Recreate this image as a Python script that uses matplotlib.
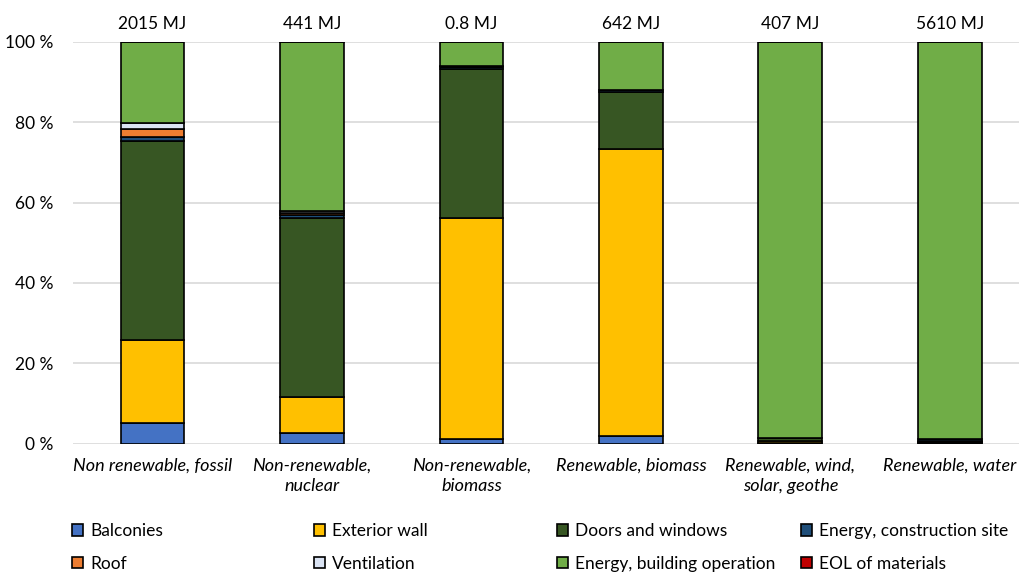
import matplotlib.pyplot as plt
import numpy as np

plt.rcParams['font.family'] = ['Lato', 'DejaVu Sans']

# categories and totals
categories = ['Non renewable, fossil', 'Non-renewable,\nnuclear', 'Non-renewable,\nbiomass',
              'Renewable, biomass', 'Renewable, wind,\nsolar, geothe', 'Renewable, water']
totals = ['2015 MJ', '441 MJ', '0.8 MJ', '642 MJ', '407 MJ', '5610 MJ']

# shares in percent, bottom to top
balconies = [5.2, 2.7, 1.2, 1.8, 0.1, 0.2]
exterior_wall = [20.6, 9.0, 55.0, 71.5, 0.5, 0.1]
doors_windows = [49.4, 44.4, 37.0, 14.1, 0.7, 0.3]
energy_site = [1.0, 0.7, 0.6, 0.5, 0.2, 0.6]
roof = [2.0, 0.6, 0.0, 0.0, 0.0, 0.0]
ventilation = [1.5, 0.5, 0.1, 0.1, 0.0, 0.0]
energy_operation = [20.3, 42.1, 6.1, 12.0, 98.5, 98.8]
eol = [0.0, 0.1, 0.0, 0.0, 0.0, 0.0]

series = [
    ('Balconies', balconies, '#4472C4'),
    ('Exterior wall', exterior_wall, '#FFC000'),
    ('Doors and windows', doors_windows, '#375623'),
    ('Energy, construction site', energy_site, '#1F4E79'),
    ('Roof', roof, '#ED7D31'),
    ('Ventilation', ventilation, '#DAE3F3'),
    ('Energy, building operation', energy_operation, '#70AD47'),
    ('EOL of materials', eol, '#C00000'),
]

fig = plt.figure(figsize=(10.2, 5.72), dpi=100)
ax = fig.add_axes([72.8 / 1020, 128.3 / 572, (1020 - 72.8) / 1020, 402 / 572])

x = np.arange(len(categories))
bottom = np.zeros(len(categories))
handles = {}
for name, vals, color in series:
    b = ax.bar(x, vals, 0.40, bottom=bottom, color=color, edgecolor='black',
               linewidth=1.2, zorder=3, label=name)
    handles[name] = b
    bottom += np.array(vals)

ax.set_xlim(-0.5, 5.44)
ax.set_ylim(0, 100)
ax.set_yticks([0, 20, 40, 60, 80, 100])
ax.set_yticklabels([f'{v} %' for v in range(0, 101, 20)], fontsize=12.5)
ax.yaxis.grid(True, color='#D9D9D9', linewidth=1.2, zorder=0)
ax.tick_params(axis='y', length=0, pad=14)
ax.tick_params(axis='x', length=0, pad=10)
ax.set_xticks(x)
ax.set_xticklabels(categories, fontsize=13, style='italic', linespacing=1.35)
for s in ax.spines.values():
    s.set_visible(False)

for xi, t in zip(x, totals):
    ax.text(xi, 104.5, t, ha='center', va='center', fontsize=12.5)

# legend laid out in four columns, filled row by row
cols = [['Balconies', 'Roof'], ['Exterior wall', 'Ventilation'],
        ['Doors and windows', 'Energy, building operation'],
        ['Energy, construction site', 'EOL of materials']]
xpos = [60, 302, 545, 789]
for names, xp in zip(cols, xpos):
    leg = fig.legend([handles[n] for n in names], names, loc='upper left',
                     bbox_to_anchor=(xp / 1020, 1 - 511 / 572), frameon=False,
                     fontsize=12.5, handlelength=0.65, handleheight=0.65,
                     handletextpad=0.4, labelspacing=0.95, borderpad=0.2)

fig.savefig('out.png', dpi=100)
